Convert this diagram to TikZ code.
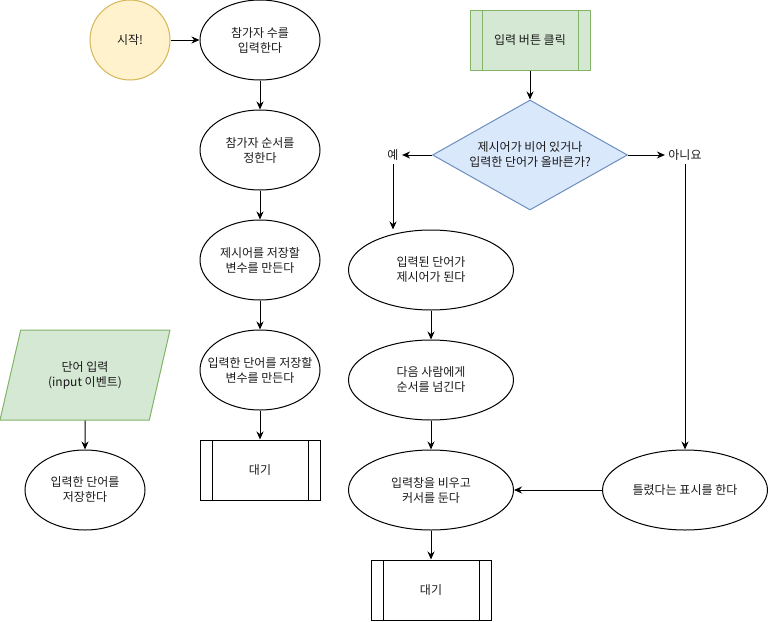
\documentclass[tikz,border=0pt]{standalone}
\usepackage{fontspec}
\setmainfont{Noto Sans CJK KR}
\usetikzlibrary{positioning,arrows.meta,shapes.geometric}
\definecolor{startfill}{HTML}{FFF2CC}
\definecolor{startline}{HTML}{D6B656}
\definecolor{evfill}{HTML}{D5E8D4}
\definecolor{evline}{HTML}{82B366}
\definecolor{askfill}{HTML}{DAE8FC}
\definecolor{askline}{HTML}{6C8EBF}
\definecolor{ink}{HTML}{1A1A1A}

\tikzset{
  every node/.style={text=ink, align=center},
  proc/.style={ellipse, draw=black, line width=1pt, minimum width=120pt, minimum height=80pt, inner xsep=-22pt},
  wideproc/.style={proc, minimum width=165pt},
  startnode/.style={circle, draw=startline, fill=startfill, line width=1pt, minimum size=80pt},
  subproc/.style={rectangle, draw=#1, line width=1pt, minimum width=120pt, minimum height=60pt,
    path picture={
      \draw[#1, line width=1pt] ([xshift=12pt]path picture bounding box.north west) -- ([xshift=12pt]path picture bounding box.south west);
      \draw[#1, line width=1pt] ([xshift=-12pt]path picture bounding box.north east) -- ([xshift=-12pt]path picture bounding box.south east);}},
  subproc/.default=black,
  ask/.style={diamond, draw=askline, fill=askfill, line width=1pt, minimum width=195pt, minimum height=110pt, inner sep=0pt, aspect=1.77},
  inev/.style={trapezium, trapezium left angle=77, trapezium right angle=103, trapezium stretches body,
    draw=evline, fill=evfill, line width=1pt, minimum width=170pt, minimum height=90pt, inner ysep=31pt},
  flow/.style={-{Stealth[length=8pt,width=7pt]}, line width=1pt},
}

\begin{document}
\begin{tikzpicture}[x=1pt,y=-1pt,font=\fontsize{12}{15}\selectfont]
\useasboundingbox (0,0) rectangle (768,621);

% setup column
\node[startnode] (start) at (130,40) {시작!};
\node[proc] (count) at (260,40) {참가자 수를\\입력한다};
\node[proc] (order) at (260,150) {참가자 순서를\\정한다};
\node[proc] (hintvar) at (260,260) {제시어를 저장할\\변수를 만든다};
\node[proc] (wordvar) at (260,370) {입력한 단어를 저장할\\변수를 만든다};
\node[subproc] (waitA) at (260,470) {대기};

% input event
\node[inev] (typed) at (85,375) {단어 입력\\(input 이벤트)};
\node[proc] (keep) at (85,490) {입력한 단어를\\저장한다};

% button event
\node[subproc=evline, fill=evfill] (click) at (530,40) {입력 버튼 클릭};
\node[ask] (check) at (530,155) {제시어가 비어 있거나\\입력한 단어가 올바른가?};
\node (yes) at (393,155) {예};
\node (no) at (685,155) {아니요};
\node[wideproc] (newhint) at (431,270) {입력된 단어가\\제시어가 된다};
\node[wideproc] (pass) at (431,380) {다음 사람에게\\순서를 넘긴다};
\node[wideproc] (reset) at (431,490) {입력창을 비우고\\커서를 둔다};
\node[wideproc] (wrong) at (685,490) {틀렸다는 표시를 한다};
\node[subproc] (waitB) at (431,590) {대기};

\draw[flow] (start) -- (count);
\draw[flow] (count) -- (order);
\draw[flow] (order) -- (hintvar);
\draw[flow] (hintvar) -- (wordvar);
\draw[flow] (wordvar) -- (waitA);
\draw[flow] (typed) -- (keep);
\draw[flow] (click) -- (check);
\draw[flow] (check) -- (yes);
\draw[flow] (yes) -- (yes |- newhint.north);
\draw[flow] (check) -- (no);
\draw[flow] (no) -- (wrong);
\draw[flow] (newhint) -- (pass);
\draw[flow] (pass) -- (reset);
\draw[flow] (wrong) -- (reset);
\draw[flow] (reset) -- (waitB);
\end{tikzpicture}
\end{document}
